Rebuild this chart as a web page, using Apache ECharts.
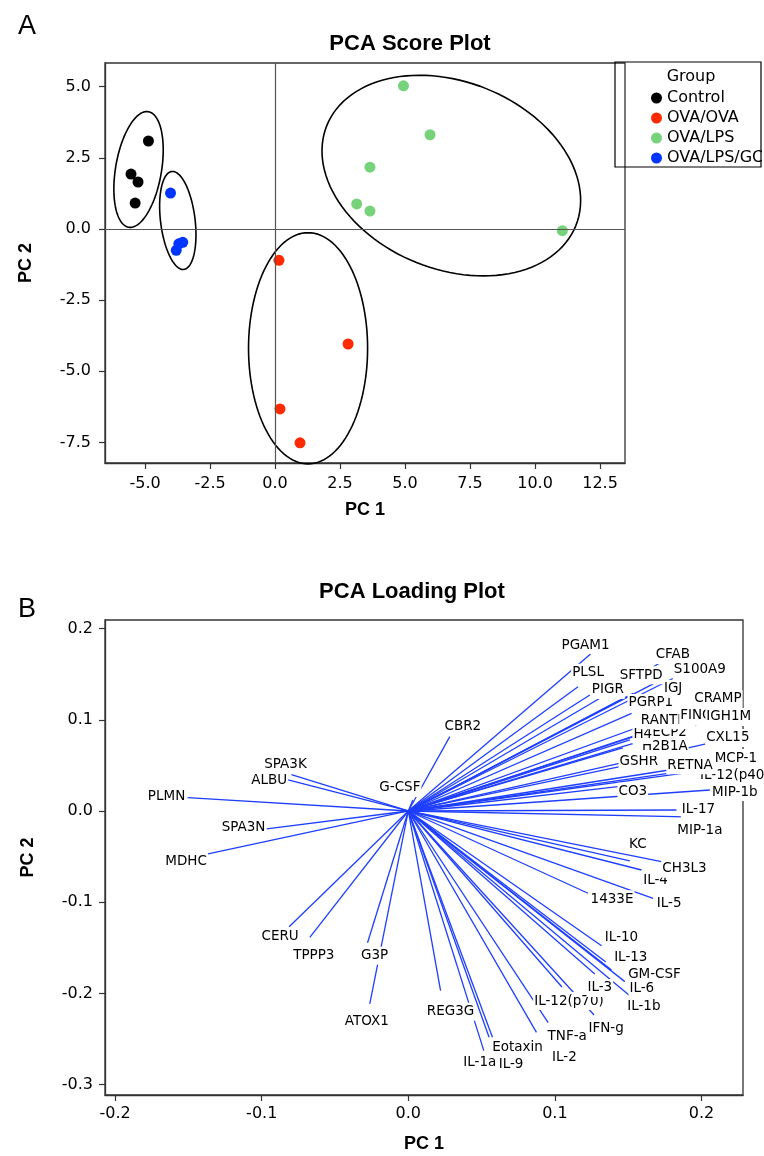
<!DOCTYPE html>
<html><head><meta charset="utf-8">
<script src="https://cdn.jsdelivr.net/npm/echarts@6/dist/echarts.min.js"></script>
<style>html,body{margin:0;padding:0;background:#fff}#c{width:764px;height:1156px}</style>
</head><body><div id="c"></div>
<script>
// ---------- Score plot data ----------
const groups = ['Control', 'OVA/OVA', 'OVA/LPS', 'OVA/LPS/GC'];
const controlPC1 = [-4.87, -5.54, -5.27, -5.38];
const controlPC2 = [3.09, 1.93, 1.65, 0.91];
const ovaOvaPC1 = [0.15, 2.81, 0.19, 0.96];
const ovaOvaPC2 = [-1.10, -4.04, -6.32, -7.51];
const ovaLpsPC1 = [4.94, 5.96, 3.65, 3.14, 3.65, 11.05];
const ovaLpsPC2 = [5.03, 3.31, 2.17, 0.88, 0.63, -0.06];
const ovaLpsGcPC1 = [-4.02, -3.55, -3.70, -3.80];
const ovaLpsGcPC2 = [1.26, -0.47, -0.52, -0.75];
const scoreTicksX = [-5, -2.5, 0, 2.5, 5, 7.5, 10, 12.5];
const scoreTicksY = [-7.5, -5, -2.5, 0, 2.5, 5];
// group ellipses: centre, end of one semi-axis, end of the conjugate semi-axis
const ellipseCenterX = [-5.25, 1.27, 6.78, -3.74];
const ellipseCenterY = [2.09, -4.19, 1.875, 0.30];
const ellipseAxis1X = [-4.87, 1.27, 11.57, -3.97];
const ellipseAxis1Y = [4.12, -0.13, 0.12, 2.02];
const ellipseAxis2X = [-4.38, 3.56, 5.44, -3.08];
const ellipseAxis2Y = [1.95, -4.19, -1.18, 0.37];

// ---------- Loading plot data ----------
const loadNames = ['PLMN','ALBU','SPA3K','SPA3N','MDHC','CERU','TPPP3','G3P','ATOX1','G-CSF','CBR2',
  'REG3G','IL-1a','IL-9','Eotaxin','IL-2','TNF-a','IL-12(p70)','IFN-g','IL-3','GM-CSF','IL-1b','IL-6',
  'IL-13','IL-10','1433E','IL-5','IL-4','CH3L3','KC','MIP-1a','IL-17','MIP-1b','CO3','IL-12(p40)',
  'RETNA','MCP-1','GSHR','CXL15','ECP2','H2B1A','H4','RANTES','FINC','IGH1M','PGRP1','CRAMP','CFAB',
  'IGJ','S100A9','SFTPD','PIGR','PLSL','PGAM1'];
const loadPC1 = [-0.1506,-0.0820,-0.0797,-0.0967,-0.1366,-0.0813,-0.0672,-0.0278,-0.0263,0.0031,0.0283,
  0.0220,0.0515,0.0551,0.0574,0.0874,0.0954,0.1048,0.1267,0.1272,0.1386,0.1511,0.1477,
  0.1347,0.1318,0.1226,0.1670,0.1591,0.1727,0.1511,0.2057,0.1829,0.2057,0.1429,0.1941,
  0.1772,0.2125,0.1443,0.2091,0.1659,0.1463,0.1511,0.1523,0.1886,0.2070,0.1443,0.2023,0.1750,
  0.1670,0.1852,0.1534,0.1238,0.1158,0.1243];
const loadPC2 = [0.0146,0.0340,0.0398,-0.0197,-0.0471,-0.1269,-0.1385,-0.1444,-0.2116,0.0121,0.0815,
  -0.1970,-0.2628,-0.2481,-0.2481,-0.2427,-0.2321,-0.1930,-0.2237,-0.1787,-0.1743,-0.2025,-0.1871,
  -0.1656,-0.1477,-0.0902,-0.0957,-0.0647,-0.0556,-0.0548,-0.0069,0.0011,0.0230,0.0266,0.0428,
  0.0413,0.0537,0.0486,0.0757,0.0888,0.0691,0.0779,0.1071,0.0998,0.0998,0.1217,0.1184,0.1656,
  0.1393,0.1491,0.1291,0.1272,0.1363,0.1721];
const loadTicksX = [-0.2, -0.1, 0.0, 0.1, 0.2];
const loadTicksY = [-0.3, -0.2, -0.1, 0.0, 0.1, 0.2];

// ---------- layout / style (label placement: px offset of label centre from vector tip) ----------
const labelOffset = {
  'PLMN':[-21,-1],'ALBU':[-19,1],'SPA3K':[-6,-10],'SPA3N':[-23,-1],'MDHC':[-22,8],'CERU':[-9,10],
  'TPPP3':[4,18],'G3P':[7,13],'ATOX1':[-3,18],'G-CSF':[-13,-12],'CBR2':[13,-10],'REG3G':[10,21],
  'IL-1a':[-4,12],'IL-9':[22,27],'Eotaxin':[25,10],'IL-2':[28,25],'TNF-a':[19,14],'IL-12(p70)':[7,14],
  'IFN-g':[12,13],'IL-3':[5,14],'GM-CSF':[43,5],'IL-1b':[14,11],'IL-6':[17,7],'IL-13':[25,-5],
  'IL-10':[20,-8],'1433E':[24,6],'IL-5':[16,5],'IL-4':[14,11],'CH3L3':[23,7],'KC':[8,-16],
  'MIP-1a':[-10,13],'IL-17':[22,0],'MIP-1b':[25,2],'CO3':[15,5],'IL-12(p40)':[42,4],'RETNA':[22,-8],
  'MCP-1':[16,-4],'GSHR':[19,-5],'CXL15':[13,-4],'ECP2':[18,3],'H2B1A':[42,-1],'H4':[13,-5],
  'RANTES':[36,7],'FINC':[11,-4],'IGH1M':[17,-3],'PGRP1':[31,3],'CRAMP':[13,-4],'CFAB':[8,-5],
  'IGJ':[20,5],'S100A9':[20,-5],'SFTPD':[8,-18],'PIGR':[18,-5],'PLSL':[10,-14],'PGAM1':[-5,-9]
};
const groupColors = ['#000000', '#ff2a00', '#77d37a', '#0035ff'];
const vectorColor = '#1f3fff';
const tickFont = 'DejaVu Sans';
const boldFont = 'Liberation Sans';

const scoreX = [controlPC1, ovaOvaPC1, ovaLpsPC1, ovaLpsGcPC1];
const scoreY = [controlPC2, ovaOvaPC2, ovaLpsPC2, ovaLpsGcPC2];

function fmt1(v) { return (Math.round(v * 10) / 10).toFixed(1); }

const axisCommon = {
  axisLine: { show: true, onZero: false, lineStyle: { color: '#333', width: 1.3 } },
  axisTick: { show: true, length: 6, inside: false, lineStyle: { color: '#333', width: 1.2 } },
  splitLine: { show: false },
  nameTextStyle: { fontFamily: boldFont, fontWeight: 'bold', fontSize: 18, color: '#000' }
};

const series = [];
groups.forEach((g, i) => {
  series.push({
    name: g, type: 'scatter', xAxisIndex: 0, yAxisIndex: 0,
    symbol: 'circle', symbolSize: 11,
    itemStyle: { color: groupColors[i], opacity: 1 },
    data: scoreX[i].map((x, k) => [x, scoreY[i][k]]),
    z: 4
  });
});
// zero reference lines in the score plot
series.push({
  type: 'line', xAxisIndex: 0, yAxisIndex: 0, data: [], silent: true,
  markLine: {
    symbol: 'none', silent: true, label: { show: false },
    lineStyle: { color: '#555', type: 'solid', width: 1.2 },
    data: [{ xAxis: 0 }, { yAxis: 0 }]
  }
});
// ellipses
series.push({
  type: 'custom', xAxisIndex: 0, yAxisIndex: 0, clip: false, silent: true, z: 3,
  data: ellipseCenterX.map((cx, i) => [cx, ellipseCenterY[i], ellipseAxis1X[i], ellipseAxis1Y[i], ellipseAxis2X[i], ellipseAxis2Y[i]]),
  encode: { x: [0, 2, 4], y: [1, 3, 5] },
  renderItem: function (params, api) {
    const c = api.coord([api.value(0), api.value(1)]);
    const a = api.coord([api.value(2), api.value(3)]);
    const b = api.coord([api.value(4), api.value(5)]);
    const pts = [];
    const n = 120;
    for (let k = 0; k < n; k++) {
      const t = 2 * Math.PI * k / n;
      pts.push([c[0] + Math.cos(t) * (a[0] - c[0]) + Math.sin(t) * (b[0] - c[0]),
                c[1] + Math.cos(t) * (a[1] - c[1]) + Math.sin(t) * (b[1] - c[1])]);
    }
    return { type: 'polygon', shape: { points: pts }, style: { fill: 'none', stroke: '#000', lineWidth: 1.6 } };
  }
});
// loading vectors
series.push({
  type: 'custom', xAxisIndex: 1, yAxisIndex: 1, clip: false, silent: true, z: 2,
  data: loadPC1.map((x, i) => [x, loadPC2[i]]),
  encode: { x: 0, y: 1 },
  renderItem: function (params, api) {
    const o = api.coord([0, 0]);
    const p = api.coord([api.value(0), api.value(1)]);
    return { type: 'line', shape: { x1: o[0], y1: o[1], x2: p[0], y2: p[1] }, style: { stroke: vectorColor, lineWidth: 1.3 } };
  }
});
// loading labels (white boxed text next to each vector tip)
series.push({
  type: 'custom', xAxisIndex: 1, yAxisIndex: 1, clip: false, silent: true, z: 5,
  data: loadPC1.map((x, i) => [x, loadPC2[i], i]),
  encode: { x: 0, y: 1 },
  renderItem: function (params, api) {
    const p = api.coord([api.value(0), api.value(1)]);
    const name = loadNames[api.value(2)];
    const off = labelOffset[name] || [0, 0];
    return {
      type: 'text', z2: params.dataIndex,
      x: p[0] + off[0], y: p[1] + off[1],
      style: {
        text: name, fill: '#000', fontFamily: tickFont, fontSize: 13.5,
        align: 'center', verticalAlign: 'middle',
        backgroundColor: '#fff', padding: [2, 1]
      }
    };
  }
});

const option = {
  animation: false,
  backgroundColor: '#fff',
  title: [
    { text: 'PCA Score Plot', left: 405, top: 28, textAlign: 'center',
      textStyle: { fontFamily: boldFont, fontWeight: 'bold', fontSize: 22, color: '#000' } },
    { text: 'PCA Loading Plot', left: 407, top: 576, textAlign: 'center',
      textStyle: { fontFamily: boldFont, fontWeight: 'bold', fontSize: 22, color: '#000' } },
    { text: 'A', left: 13, top: 8, textStyle: { fontFamily: boldFont, fontWeight: 'normal', fontSize: 27, color: '#000' } },
    { text: 'B', left: 13, top: 591, textStyle: { fontFamily: boldFont, fontWeight: 'normal', fontSize: 27, color: '#000' } }
  ],
  legend: {
    data: groups, orient: 'vertical', left: 646, top: 85, itemGap: 4,
    itemWidth: 11, itemHeight: 11, icon: 'circle', selectedMode: false,
    textStyle: { fontFamily: tickFont, fontSize: 16, color: '#000', lineHeight: 16 }
  },
  graphic: [
    { type: 'rect', shape: { x: 615, y: 62, width: 146, height: 105 }, style: { fill: 'none', stroke: '#000', lineWidth: 1.2 }, z: 10 },
    { type: 'text', x: 691, y: 77, style: { text: 'Group', fontFamily: tickFont, fontSize: 16, fill: '#000', textAlign: 'center', textVerticalAlign: 'middle' }, z: 10 },
    { type: 'rect', shape: { x: 762, y: 60, width: 4, height: 110 }, style: { fill: '#fff' }, z: 11 }
  ],
  grid: [
    { left: 105, right: 139, top: 63, bottom: 693, show: true, borderColor: '#333', borderWidth: 1.3, backgroundColor: 'transparent' },
    { left: 105, right: 21, top: 620, bottom: 61, show: true, borderColor: '#333', borderWidth: 1.3, backgroundColor: 'transparent' }
  ],
  xAxis: [
    Object.assign({}, axisCommon, {
      gridIndex: 0, type: 'value', min: -6.54, max: 13.46,
      name: 'PC 1', nameLocation: 'middle', nameGap: 38,
      axisTick: Object.assign({}, axisCommon.axisTick, { customValues: scoreTicksX }),
      axisLabel: { customValues: scoreTicksX, formatter: fmt1, fontFamily: tickFont, fontSize: 16, color: '#000', margin: 13 }
    }),
    Object.assign({}, axisCommon, {
      gridIndex: 1, type: 'value', min: -0.2069, max: 0.2283,
      name: 'PC 1', nameLocation: 'middle', nameGap: 40,
      axisTick: Object.assign({}, axisCommon.axisTick, { customValues: loadTicksX }),
      axisLabel: { customValues: loadTicksX, formatter: fmt1, fontFamily: tickFont, fontSize: 16, color: '#000', margin: 11 }
    })
  ],
  yAxis: [
    Object.assign({}, axisCommon, {
      gridIndex: 0, type: 'value', min: -8.22, max: 5.83,
      name: 'PC 2', nameLocation: 'middle', nameGap: 70,
      axisTick: Object.assign({}, axisCommon.axisTick, { customValues: scoreTicksY }),
      axisLabel: { customValues: scoreTicksY, formatter: fmt1, fontFamily: tickFont, fontSize: 16, color: '#000', margin: 14 }
    }),
    Object.assign({}, axisCommon, {
      gridIndex: 1, type: 'value', min: -0.3114, max: 0.2094,
      name: 'PC 2', nameLocation: 'middle', nameGap: 68,
      axisTick: Object.assign({}, axisCommon.axisTick, { customValues: loadTicksY }),
      axisLabel: { customValues: loadTicksY, formatter: fmt1, fontFamily: tickFont, fontSize: 16, color: '#000', margin: 12 }
    })
  ],
  series: series
};

const chart = echarts.init(document.getElementById('c'), null, { renderer: 'canvas', width: 764, height: 1156 });
chart.setOption(option);
</script>
</body></html>
